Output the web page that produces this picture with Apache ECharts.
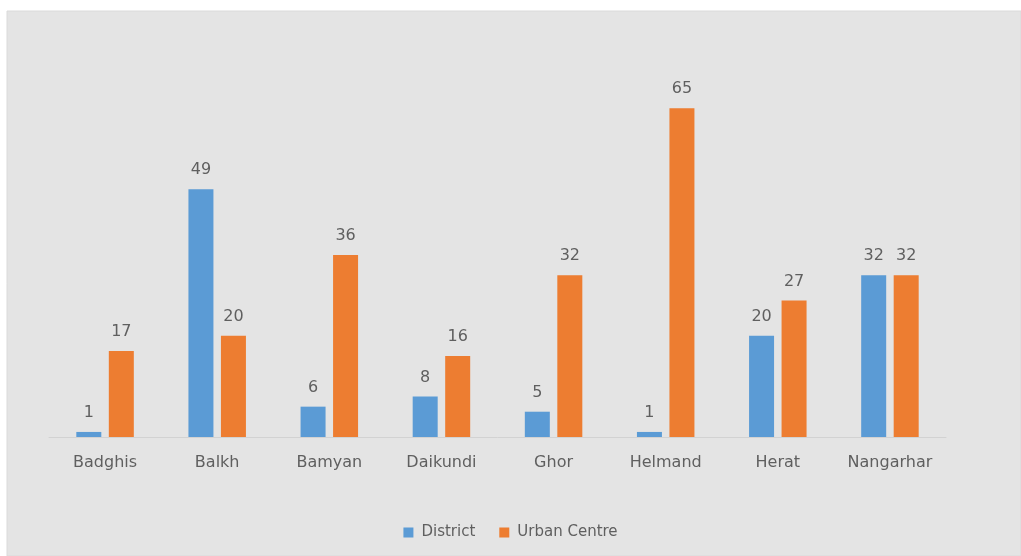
<!DOCTYPE html>
<html>
<head>
<meta charset="utf-8">
<script src="https://cdn.jsdelivr.net/npm/echarts@6/dist/echarts.min.js"></script>
<style>
  html, body { margin: 0; padding: 0; background: #ffffff; }
  #chart { width: 1021px; height: 556px; }
</style>
</head>
<body>
<div id="chart"></div>
<script>
// Provinces along the x axis
const provinces = ['Badghis', 'Balkh', 'Bamyan', 'Daikundi', 'Ghor', 'Helmand', 'Herat', 'Nangarhar'];
// Counts per province
const districtValues = [1, 49, 6, 8, 5, 1, 20, 32];
const urbanCentreValues = [17, 20, 36, 16, 32, 65, 27, 32];
const seriesNames = ['District', 'Urban Centre'];

const textColor = '#5f5f5f';
const font = 'DejaVu Sans';

const chart = echarts.init(document.getElementById('chart'), null, { renderer: 'canvas' });

const labelStyle = {
  show: true,
  position: 'top',
  distance: 11,
  color: textColor,
  fontFamily: font,
  fontSize: 16
};

chart.setOption({
  animation: false,
  backgroundColor: '#ffffff',
  graphic: [{
    type: 'rect',
    z: -10,
    shape: { x: 7, y: 11, width: 1014, height: 545 },
    style: { fill: '#e4e4e4', stroke: '#dadada', lineWidth: 1 }
  }],
  grid: { left: 49, right: 75, top: 83, bottom: 119, containLabel: false },
  legend: {
    data: seriesNames,
    top: 520,
    left: 'center',
    itemWidth: 10,
    itemHeight: 10,
    itemGap: 24,
    icon: 'rect',
    textStyle: { color: textColor, fontFamily: font, fontSize: 15, padding: [0, 0, 0, 3] }
  },
  xAxis: {
    type: 'category',
    data: provinces,
    axisLine: { show: true, lineStyle: { color: '#d2d2d2', width: 1 } },
    axisTick: { show: false },
    axisLabel: { color: textColor, fontFamily: font, fontSize: 16, margin: 18 }
  },
  yAxis: {
    type: 'value',
    min: 0,
    max: 70,
    interval: 10,
    show: false,
    splitLine: { show: false }
  },
  series: [
    {
      name: seriesNames[0],
      type: 'bar',
      data: districtValues,
      barWidth: 25,
      barGap: '30%',
      itemStyle: { color: '#5b9bd5' },
      label: labelStyle
    },
    {
      name: seriesNames[1],
      type: 'bar',
      data: urbanCentreValues,
      barWidth: 25,
      itemStyle: { color: '#ed7d31' },
      label: labelStyle
    }
  ]
});
</script>
</body>
</html>
